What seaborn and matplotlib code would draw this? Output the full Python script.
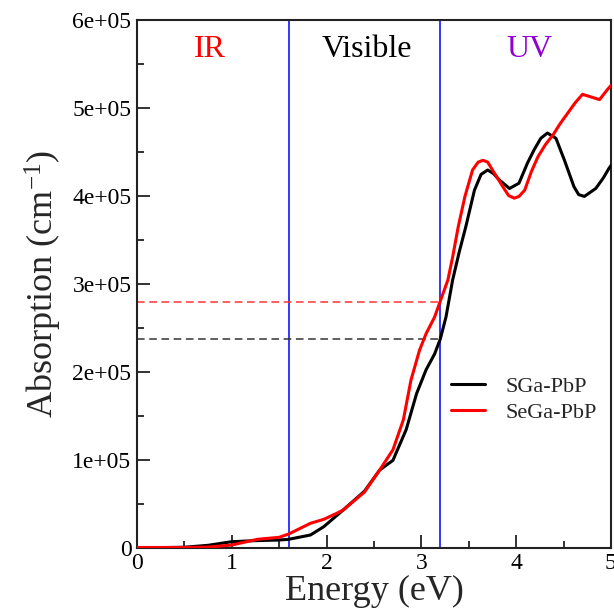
"""Absorption spectra of SGa-PbP and SeGa-PbP with seaborn."""
import matplotlib
matplotlib.use('Agg')
import matplotlib.pyplot as plt
from matplotlib.ticker import FuncFormatter, MultipleLocator
import pandas as pd
import seaborn as sns

# values
energy_s = [0.0, 0.3, 0.5, 0.75, 1.0, 1.25, 1.5, 1.6, 1.83, 1.97, 2.175, 2.4, 2.56,
            2.7, 2.84, 2.95, 3.05, 3.14, 3.2, 3.26, 3.33, 3.4, 3.47, 3.56, 3.63,
            3.7, 3.76, 3.82, 3.93, 4.03, 4.12, 4.19, 4.26, 4.33, 4.42, 4.51, 4.61,
            4.66, 4.72, 4.84, 4.92, 4.98, 5.0]
absorb_s = [0, 0, 300, 2500, 6600, 7800, 8500, 9300, 14200, 23600, 42600, 64000, 88000,
            99000, 134000, 175000, 202000, 220000, 237000, 262000, 304000, 336000,
            365000, 406000, 424000, 429000, 425000, 418000, 408000, 414000, 437000,
            452000, 465000, 471000, 465000, 440000, 410000, 401000, 399000, 408000,
            420000, 431000, 434000]

energy_se = [0.0, 0.3, 0.5, 0.75, 1.0, 1.27, 1.5, 1.6, 1.83, 1.97, 2.11, 2.175, 2.4, 2.56,
             2.7, 2.81, 2.89, 2.98, 3.05, 3.14, 3.2, 3.28, 3.33, 3.39, 3.46, 3.54,
             3.6, 3.65, 3.7, 3.75, 3.86, 3.92, 3.98, 4.03, 4.09, 4.16, 4.23, 4.31,
             4.39, 4.46, 4.54, 4.62, 4.7, 4.79, 4.88, 4.96, 5.0]
absorb_se = [0, 0, 0, 500, 2800, 9300, 11600, 15300, 27500, 32000, 39000, 42600, 63000,
             88000, 111000, 145000, 190000, 224000, 243000, 262000, 280000, 304000,
             330000, 365000, 399000, 429000, 438000, 440000, 438000, 429000, 410000,
             400000, 397000, 399000, 406000, 427000, 444000, 458000, 469000, 481000,
             493000, 505000, 515000, 512000, 509000, 520000, 525000]

region_edges = [1.6, 3.2]
region_names = ['IR', 'Visible', 'UV']
region_text_x = [0.77, 2.43, 4.14]
region_colors = ['red', 'black', '#9400d3']
edge_absorb = {'SGa-PbP': 237000, 'SeGa-PbP': 279000}

df = pd.concat([
    pd.DataFrame({'Energy': energy_s, 'Absorption': absorb_s, 'System': 'SGa-PbP'}),
    pd.DataFrame({'Energy': energy_se, 'Absorption': absorb_se, 'System': 'SeGa-PbP'}),
])

sns.set_style('ticks')
plt.rcParams['font.family'] = ['Liberation Serif', 'DejaVu Serif']
plt.rcParams['mathtext.fontset'] = 'custom'
plt.rcParams['mathtext.rm'] = 'Liberation Serif'
plt.rcParams['mathtext.it'] = 'Liberation Serif:italic'

fig = plt.figure(figsize=(6.14, 6.14), dpi=100)
ax = fig.add_axes([0.2231, 0.1083, 0.7719, 0.8599])

# region boundaries and the dashed guides at the visible edge
for xe in region_edges:
    ax.axvline(xe, color='blue', lw=1.1, zorder=1)
ax.hlines(edge_absorb['SeGa-PbP'], 0, region_edges[1], colors='#ff3333',
          linestyles=(0, (5, 3)), lw=1.1, zorder=1)
ax.hlines(edge_absorb['SGa-PbP'], 0, region_edges[1], colors='#333333',
          linestyles=(0, (5, 3)), lw=1.1, zorder=1)

sns.lineplot(data=df, x='Energy', y='Absorption', hue='System',
             palette={'SGa-PbP': 'black', 'SeGa-PbP': 'red'},
             linewidth=2.2, ax=ax, zorder=3)
for ln in ax.get_lines():
    ln.set_solid_joinstyle('round')

for name, xt, col in zip(region_names, region_text_x, region_colors):
    ax.text(xt, 5.66e5, name, color=col, fontsize=23, ha='center', va='center')

ax.set_xlim(0, 5)
ax.set_ylim(0, 6e5)
ax.xaxis.set_major_locator(MultipleLocator(1))
ax.xaxis.set_minor_locator(MultipleLocator(0.5))
ax.yaxis.set_major_locator(MultipleLocator(1e5))
ax.yaxis.set_minor_locator(MultipleLocator(5e4))
ax.yaxis.set_major_formatter(FuncFormatter(lambda v, p: '0' if v == 0 else f'{v:.0e}'))
ax.tick_params(which='both', direction='in', top=False, right=False,
               labelsize=17, width=1.3, colors='#222222', labelcolor='black')
ax.tick_params(which='major', length=9.5, pad=4)
ax.tick_params(which='minor', length=5)
for s in ax.spines.values():
    s.set_linewidth(1.5)
    s.set_color('#222222')

ax.set_xlabel('Energy (eV)', fontsize=26, labelpad=1)
ax.set_ylabel('Absorption (cm$^{-1}$)', fontsize=26, labelpad=6)

leg = ax.legend(title=None, frameon=False, fontsize=16, loc='center left',
                bbox_to_anchor=(0.62, 0.28), handlelength=1.55, handletextpad=0.9,
                labelspacing=0.25)

fig.savefig('out.png', dpi=100)
